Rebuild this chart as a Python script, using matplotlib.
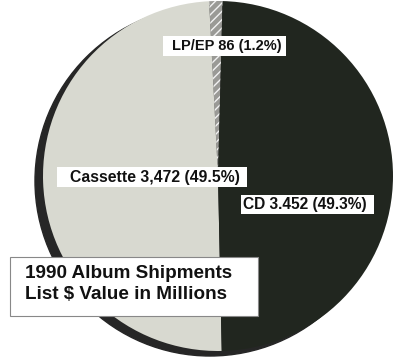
import matplotlib
matplotlib.use("Agg")
import matplotlib.pyplot as plt
from matplotlib.patches import Circle, Rectangle

categories = ["LP/EP", "Cassette", "CD"]
values = [86, 3472, 3452]
value_labels = ["86", "3,472", "3.452"]
percents = [1.2, 49.5, 49.3]
title_lines = ["1990 Album Shipments", "List $ Value in Millions"]

plt.rcParams['font.family'] = ['Liberation Sans', 'DejaVu Sans']

W, H = 398, 360
cx, cy, R = 218, 176, 175  # pixel centre and radius

fig = plt.figure(figsize=(W / 100, H / 100), dpi=100)
ax = fig.add_axes([0, 0, 1, 1])
ax.set_xlim(-cx / R, (W - cx) / R)
ax.set_ylim(-(H - cy) / R, cy / R)
ax.set_aspect('equal')
ax.axis('off')

def px(x, y):
    return (x - cx) / R, (cy - y) / R

# shadow / rim
ax.add_patch(Circle((-8 / R, -5 / R), 1.0, color='#262626', zorder=0))

colors = ['#9a9a96', '#d8d9d0', '#21261f']
wedges, _ = ax.pie(values, startangle=88.5, counterclock=True, colors=colors,
                   radius=1.0, center=(0, 0),
                   wedgeprops=dict(linewidth=0))
wedges[0].set_hatch('////')
wedges[0].set_edgecolor('#f2f2f2')
wedges[0].set_linewidth(0)
for w in wedges:
    w.set_zorder(1)
ax.set_xlim(-cx / R, (W - cx) / R)
ax.set_ylim(-(H - cy) / R, cy / R)

labels = [f"{c} {v} ({p}%)" for c, v, p in zip(categories, value_labels, percents)]

# label boxes (x0, y0, x1, y1 in pixels) and text anchors
boxes = [(163, 36, 286, 56), (57, 167, 247, 187), (241, 195, 374, 214)]
anchors = [(172, 46), (70, 177.5), (243, 204.5)]
sizes = [10.5, 11.3, 11.2]
for lab, (x0, y0, x1, y1), (tx, ty), fs in zip(labels, boxes, anchors, sizes):
    a0 = px(x0, y1)
    ax.add_patch(Rectangle(a0, (x1 - x0) / R, (y1 - y0) / R,
                           facecolor='white', edgecolor='none', zorder=3))
    ax.text(*px(tx, ty), lab, ha='left', va='center', fontsize=fs,
            fontweight='bold', color='#111111', zorder=4)

# title box
b = (10, 257, 258, 316)
ax.add_patch(Rectangle(px(b[0], b[3]), (b[2] - b[0]) / R, (b[3] - b[1]) / R,
                       facecolor='white', edgecolor='#888888', linewidth=0.8,
                       zorder=3))
ax.text(*px(25, 273.5), title_lines[0], ha='left', va='center', fontsize=13.6,
        fontweight='bold', color='#111111', zorder=4)
ax.text(*px(25, 294.5), title_lines[1], ha='left', va='center', fontsize=13.6,
        fontweight='bold', color='#111111', zorder=4)

fig.savefig('out.png', dpi=100, facecolor='white')
